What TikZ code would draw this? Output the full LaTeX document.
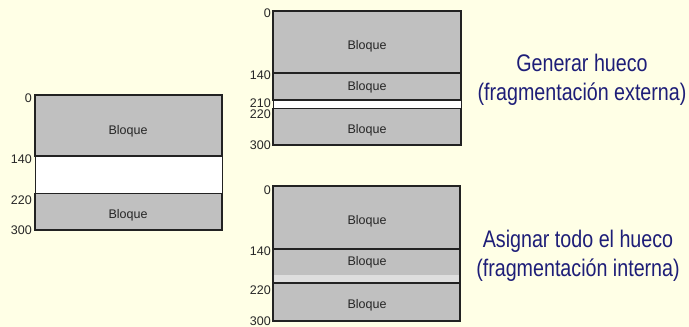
\documentclass[tikz,border=0pt]{standalone}
\usepackage{fontspec}
\setmainfont{Liberation Sans}
\newfontfamily\narrowsans{Liberation Sans}[FakeStretch=0.82]
\definecolor{fondo}{HTML}{FFFFE6}
\definecolor{bloque}{HTML}{C0C0C0}
\definecolor{resto}{HTML}{DEDEDE}
\definecolor{borde}{HTML}{222222}
\definecolor{titulo}{HTML}{1E1E78}
\begin{document}
\begin{tikzpicture}[x=1pt,y=-1pt,
  seg/.style={fill=bloque, draw=borde, line width=2.5pt},
  hueco/.style={fill=white, draw=borde, line width=0.7pt},
  dir/.style={anchor=east, inner sep=0pt, text=black!85, font=\fontsize{12.5}{12.5}\selectfont},
  etiq/.style={inner sep=0pt, text=black!85, font=\fontsize{12.5}{12.5}\selectfont},
  nota/.style={align=center, text=titulo, font=\narrowsans\fontsize{24}{29}\selectfont}]
\useasboundingbox (0,0) rectangle (689,327);
\fill[fondo] (0,0) rectangle (689,327);

% memoria con hueco libre
\draw[seg] (35,95) rectangle (222,156);
\fill[bloque] (35,193) rectangle (222,230);
\draw[hueco] (35,156) rectangle (222,193);
\draw[borde, line width=2.5pt] (35,193)--(35,230)--(222,230)--(222,193);
\node[etiq] (b1) at (128,131) {Bloque};
\node[etiq] (b2) at (128,215) {Bloque};
\node[dir] (l0) at (32,98) {0};
\node[dir] (l140) at (32,159) {140};
\node[dir] (l220) at (32,200) {220};
\node[dir] (l300) at (32,230) {300};

% generar hueco
\draw[seg] (273,11) rectangle (461,73);
\draw[seg] (273,73) rectangle (461,100);
\fill[bloque] (273,108) rectangle (461,145);
\draw[hueco] (273,100) rectangle (461,108);
\draw[borde, line width=2.5pt] (273,108)--(273,145)--(461,145)--(461,108);
\node[etiq] (e1) at (367,46) {Bloque};
\node[etiq] (e2) at (367,87) {Bloque};
\node[etiq] (e3) at (367,130) {Bloque};
\node[dir] (m0) at (271,13) {0};
\node[dir] (m140) at (271,75) {140};
\node[dir] (m210) at (271,103) {210};
\node[dir] (m220) at (271,114) {220};
\node[dir] (m300) at (271,145) {300};
\node[nota] (ext) at (582,80) {Generar hueco\\(fragmentación externa)};

% asignar todo el hueco
\draw[seg] (273,186) rectangle (460,249);
\fill[bloque] (273,249) rectangle (460,275);
\fill[resto] (273,275) rectangle (460,283);
\draw[borde, line width=2.5pt] (273,249) rectangle (460,283);
\draw[seg] (273,283) rectangle (460,321);
\node[etiq] (i1) at (367,221) {Bloque};
\node[etiq] (i2) at (367,262) {Bloque};
\node[etiq] (i3) at (367,305) {Bloque};
\node[dir] (n0) at (271,190) {0};
\node[dir] (n140) at (271,251) {140};
\node[dir] (n220) at (271,290) {220};
\node[dir] (n300) at (271,321) {300};
\node[nota] (int) at (578,256) {Asignar todo el hueco\\(fragmentación interna)};
\end{tikzpicture}
\end{document}
